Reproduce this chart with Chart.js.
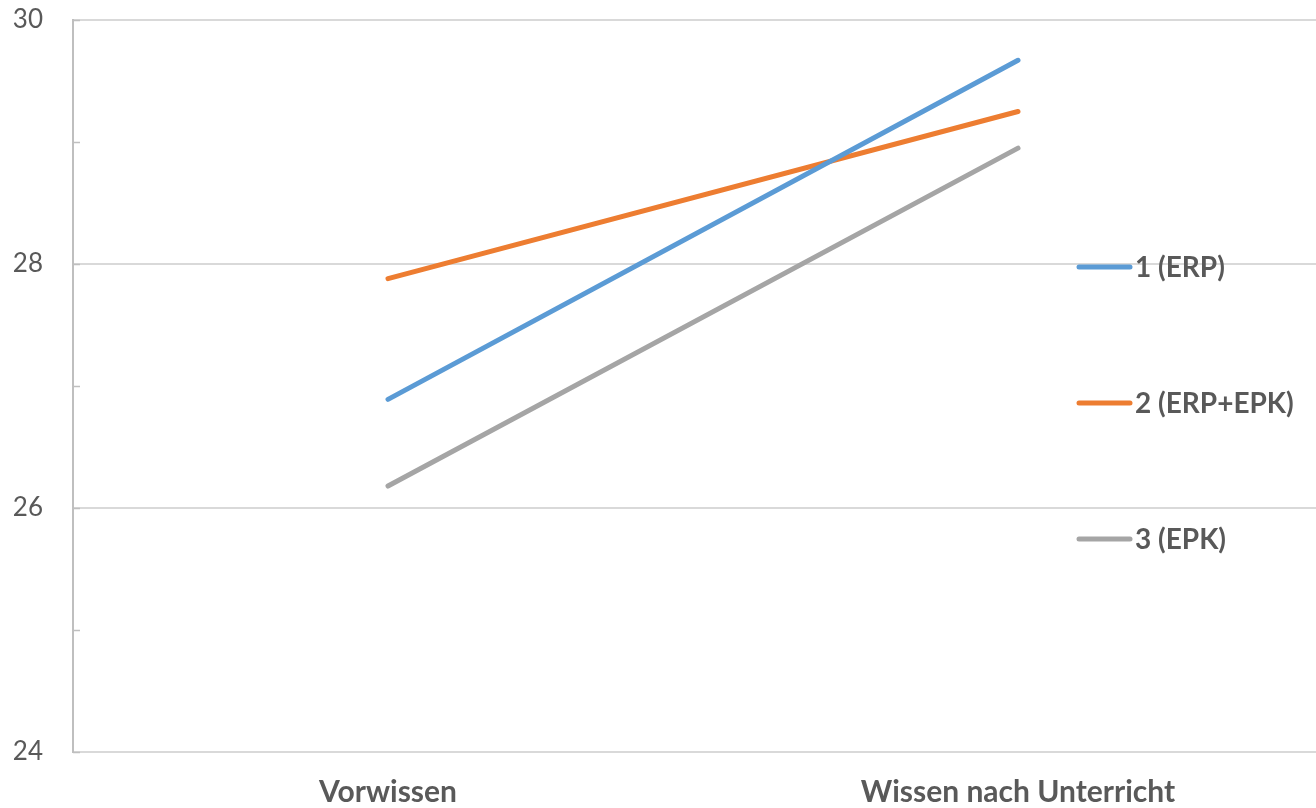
<!DOCTYPE html>
<html>
<head>
<meta charset="utf-8">
<script src="https://cdn.jsdelivr.net/npm/chart.js@4"></script>
<style>
  html, body { margin: 0; padding: 0; background: #fff; overflow: hidden; width: 1316px; height: 808px; }
  #wrap { width: 1340px; height: 808px; }
</style>
</head>
<body>
<div id="wrap"><canvas id="chart" width="1340" height="808"></canvas></div>
<script>
const categories = ['Vorwissen', 'Wissen nach Unterricht'];
const seriesNames = ['1 (ERP)', '2 (ERP+EPK)', '3 (EPK)'];
const erp = [26.89, 29.67];
const erpEpk = [27.88, 29.25];
const epk = [26.18, 28.95];
const yTicks = [24, 26, 28, 30];

const colors = ['#5B9BD5', '#ED7D31', '#A5A5A5'];
const FONT = 'Lato, "Open Sans", sans-serif';

// legend drawn inside the plot area, like the Excel original
const insideLegend = {
    id: 'insideLegend',
    afterDraw(chart) {
        const ctx = chart.ctx;
        const rows = [267, 403, 539];
        ctx.save();
        chart.data.datasets.forEach((ds, i) => {
            ctx.strokeStyle = ds.borderColor;
            ctx.lineWidth = 5;
            ctx.lineCap = 'round';
            ctx.beginPath();
            ctx.moveTo(1079, rows[i]);
            ctx.lineTo(1130, rows[i]);
            ctx.stroke();
            ctx.fillStyle = '#595959';
            ctx.font = 'bold 28px ' + FONT;
            ctx.textBaseline = 'middle';
            ctx.textAlign = 'left';
            ctx.fillText(ds.label, 1135, rows[i] + 1);
        });
        ctx.restore();
    }
};

// small inward ticks on the value axis (Excel style)
const minorTicks = {
    id: 'minorTicks',
    afterDatasetsDraw(chart) {
        const y = chart.scales.y;
        const ctx = chart.ctx;
        const left = chart.chartArea.left;
        ctx.save();
        ctx.strokeStyle = '#BFBFBF';
        ctx.lineWidth = 1.5;
        for (let v = y.min; v <= y.max; v += 1) {
            const py = Math.round(y.getPixelForValue(v)) + 0.5;
            ctx.beginPath();
            ctx.moveTo(left, py);
            ctx.lineTo(left + 7, py);
            ctx.stroke();
        }
        ctx.restore();
    }
};

new Chart(document.getElementById('chart').getContext('2d'), {
    type: 'line',
    data: {
        labels: categories,
        datasets: [
            { label: seriesNames[0], data: erp, borderColor: colors[0], backgroundColor: colors[0] },
            { label: seriesNames[1], data: erpEpk, borderColor: colors[1], backgroundColor: colors[1] },
            { label: seriesNames[2], data: epk, borderColor: colors[2], backgroundColor: colors[2] }
        ]
    },
    options: {
        responsive: false,
        animation: false,
        maintainAspectRatio: false,
        layout: { padding: { top: 20, right: 7, left: 0, bottom: 0 } },
        elements: {
            line: { borderWidth: 5, tension: 0, borderCapStyle: 'round' },
            point: { radius: 0, hoverRadius: 0 }
        },
        plugins: {
            legend: { display: false },
            tooltip: { enabled: false }
        },
        scales: {
            x: {
                offset: true,
                grid: { display: false, drawTicks: false },
                border: { display: true, color: '#D9D9D9', width: 2 },
                ticks: {
                    color: '#595959',
                    font: { family: FONT, size: 30, weight: 'bold' },
                    padding: 22,
                    maxRotation: 0
                },
                afterFit(scale) {
                    scale.height = 56;
                    scale.paddingLeft = 0;
                    scale.paddingRight = 0;
                }
            },
            y: {
                min: 24,
                max: 30,
                afterBuildTicks(scale) {
                    scale.ticks = yTicks.map(v => ({ value: v }));
                },
                grid: {
                    color: '#D9D9D9',
                    lineWidth: 2,
                    drawTicks: false
                },
                border: { display: true, color: '#BFBFBF', width: 2 },
                ticks: {
                    color: '#595959',
                    font: { family: FONT, size: 26 },
                    padding: 30
                },
                afterFit(scale) {
                    scale.width = 73;
                    scale.paddingTop = 0;
                    scale.paddingBottom = 0;
                }
            }
        }
    },
    plugins: [minorTicks, insideLegend]
});
</script>
</body>
</html>
